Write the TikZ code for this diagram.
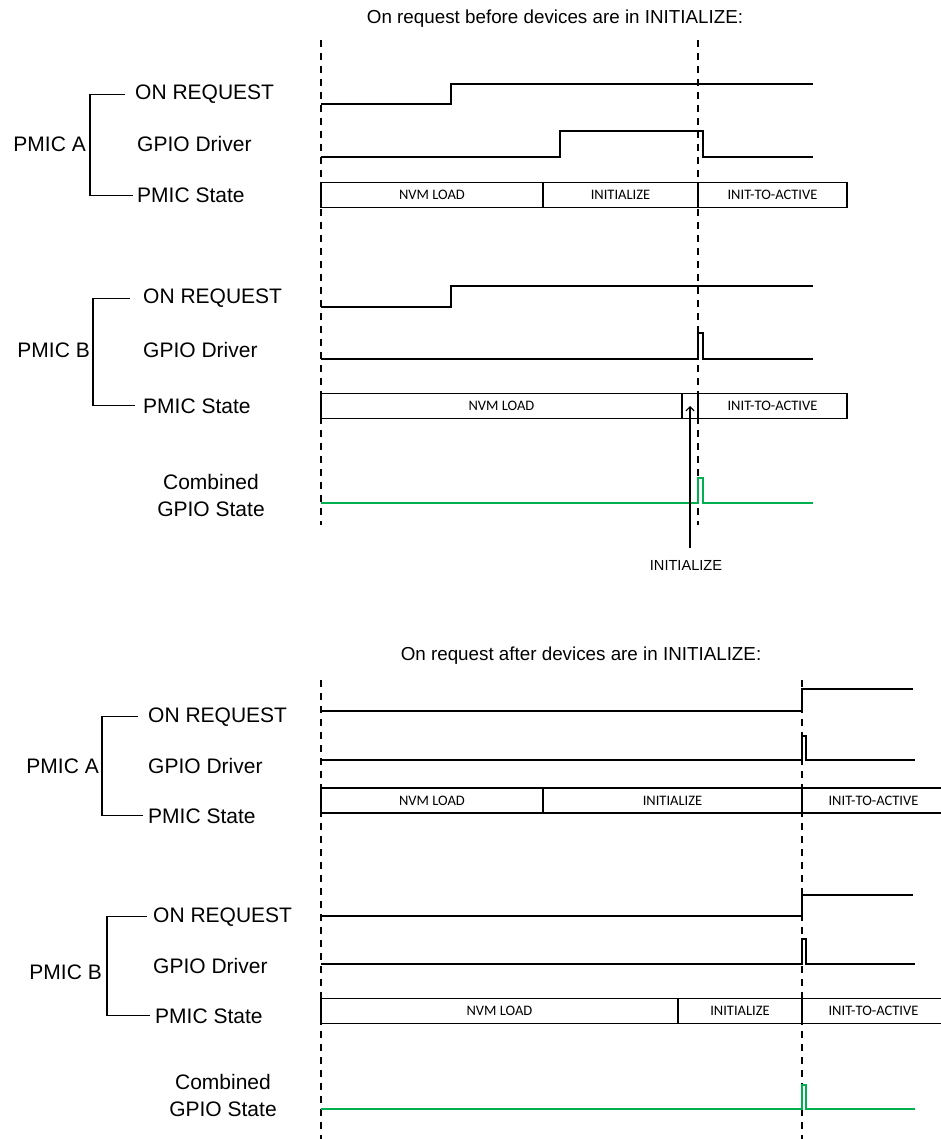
\documentclass[tikz,border=0pt]{standalone}
\usepackage{fontspec}
\setmainfont{Liberation Sans}
\newfontfamily\calibri{Carlito}
\usepackage{xcolor}
\usetikzlibrary{arrows.meta, positioning, calc}
\definecolor{gpiogreen}{RGB}{0,176,80}

\begin{document}
\begin{tikzpicture}[
  x=1pt, y=-1pt,
  font=\fontsize{21}{27}\selectfont,
  sig/.style={anchor=base west, inner sep=0pt},
  grp/.style={anchor=base east, inner sep=0pt},
  title/.style={anchor=base, inner sep=0pt, font=\fontsize{18.8}{22}\selectfont},
  note/.style={inner sep=0pt, font=\fontsize{14.6}{17}\selectfont},
  seg/.style={draw, line width=1.3pt, anchor=west, outer sep=0pt, inner sep=0pt, minimum height=25pt, font=\calibri\fontsize{14.5}{16}\selectfont},
  wave/.style={line width=1.4pt},
  guide/.style={line width=1.1pt, dash pattern=on 7pt off 6pt},
  brk/.style={line width=1.3pt},
  arr/.style={line width=1.2pt, -{Straight Barb[length=4pt, width=8pt]}}
]
\useasboundingbox (0,0) rectangle (940,1139);

\node[title] (title1) at (555,24) {On request before devices are in INITIALIZE:};

\draw[guide] (321,40) -- (321,525);
\draw[guide] (698,40) -- (698,525);

\node[grp] (pmica) at (86,152) {PMIC A};
\node[sig] (reqa) at (135,100) {ON REQUEST};
\node[sig] (gpioa) at (137,152) {GPIO Driver};
\node[sig] (statea) at (137,203) {PMIC State};
\draw[brk] ([xshift=-10pt]reqa.west) -| ([xshift=4pt]pmica.east) |- ([xshift=-4pt]statea.west);

\draw[wave] (321,104) -- (451,104) -- (451,84) -- (813,84);
\draw[wave] (321,157) -- (560,157) -- (560,131) -- (703,131) -- (703,157) -- (813,157);
\node[seg, minimum width=222pt] (nvma) at (321,195) {NVM LOAD};
\node[seg, minimum width=155pt, right=0pt of nvma] (inita) {INITIALIZE};
\node[seg, minimum width=149pt, right=0pt of inita] (acta) {INIT-TO-ACTIVE};

\node[grp] (pmicb) at (90,357) {PMIC B};
\node[sig] (reqb) at (143,304) {ON REQUEST};
\node[sig] (gpiob) at (143,357) {GPIO Driver};
\node[sig] (stateb) at (143,413) {PMIC State};
\draw[brk] ([xshift=-13pt]reqb.west) -| ([xshift=3pt]pmicb.east) |- ([xshift=-8pt]stateb.west);

\draw[wave] (321,307) -- (451,307) -- (451,286) -- (813,286);
\draw[wave] (321,359) -- (698,359) -- (698,333) -- (703,333) -- (703,359) -- (813,359);
\node[seg, minimum width=361pt] (nvmb) at (321,406) {NVM LOAD};
\node[seg, minimum width=16pt, right=0pt of nvmb] (initb) {};
\node[seg, minimum width=149pt, right=0pt of initb] (actb) {INIT-TO-ACTIVE};

\node[anchor=base, inner sep=0pt, align=center] (comb) at (211,516) {Combined\\GPIO State};
\draw[wave, gpiogreen] (321,503) -- (698,503) -- (698,478) -- (703,478) -- (703,503) -- (813,503);

\node[note, below=154pt of initb.center, xshift=-4pt] (initlbl) {INITIALIZE};
\draw[arr] ([xshift=4pt, yshift=12pt]initlbl.north) -- (initb.center);

\node[title] (title2) at (581,660) {On request after devices are in INITIALIZE:};

\draw[guide] (321,680) -- (321,1139);
\draw[guide] (802,680) -- (802,1139);

\node[grp] (pmica2) at (99,773) {PMIC A};
\node[sig] (reqa2) at (148,722) {ON REQUEST};
\node[sig] (gpioa2) at (148,773) {GPIO Driver};
\node[sig] (statea2) at (148,823) {PMIC State};
\draw[brk] ([xshift=-10pt]reqa2.west) -| ([xshift=3pt]pmica2.east) |- ([xshift=-5pt]statea2.west);

\draw[wave] (321,711) -- (802,711) -- (802,689) -- (913,689);
\draw[wave] (321,760) -- (802,760) -- (802,736) -- (806,736) -- (806,760) -- (915,760);
\node[seg, minimum width=222pt] (nvma2) at (321,800.5) {NVM LOAD};
\node[seg, minimum width=259pt, right=0pt of nvma2] (inita2) {INITIALIZE};
\node[seg, minimum width=143pt, right=0pt of inita2] (acta2) {INIT-TO-ACTIVE};

\node[grp] (pmicb2) at (102,979) {PMIC B};
\node[sig] (reqb2) at (153,922) {ON REQUEST};
\node[sig] (gpiob2) at (153,973) {GPIO Driver};
\node[sig] (stateb2) at (155,1023) {PMIC State};
\draw[brk] ([xshift=-6pt]reqb2.west) -| ([xshift=5pt]pmicb2.east) |- ([xshift=-5pt]stateb2.west);

\draw[wave] (321,916) -- (802,916) -- (802,895) -- (913,895);
\draw[wave] (321,964) -- (802,964) -- (802,939) -- (806,939) -- (806,964) -- (915,964);
\node[seg, minimum width=357pt] (nvmb2) at (321,1011) {NVM LOAD};
\node[seg, minimum width=124pt, right=0pt of nvmb2] (initb2) {INITIALIZE};
\node[seg, minimum width=143pt, right=0pt of initb2] (actb2) {INIT-TO-ACTIVE};

\node[anchor=base, inner sep=0pt, align=center] (comb2) at (223,1116) {Combined\\GPIO State};
\draw[wave, gpiogreen] (321,1109) -- (802,1109) -- (802,1085) -- (806,1085) -- (806,1109) -- (915,1109);
\end{tikzpicture}
\end{document}
